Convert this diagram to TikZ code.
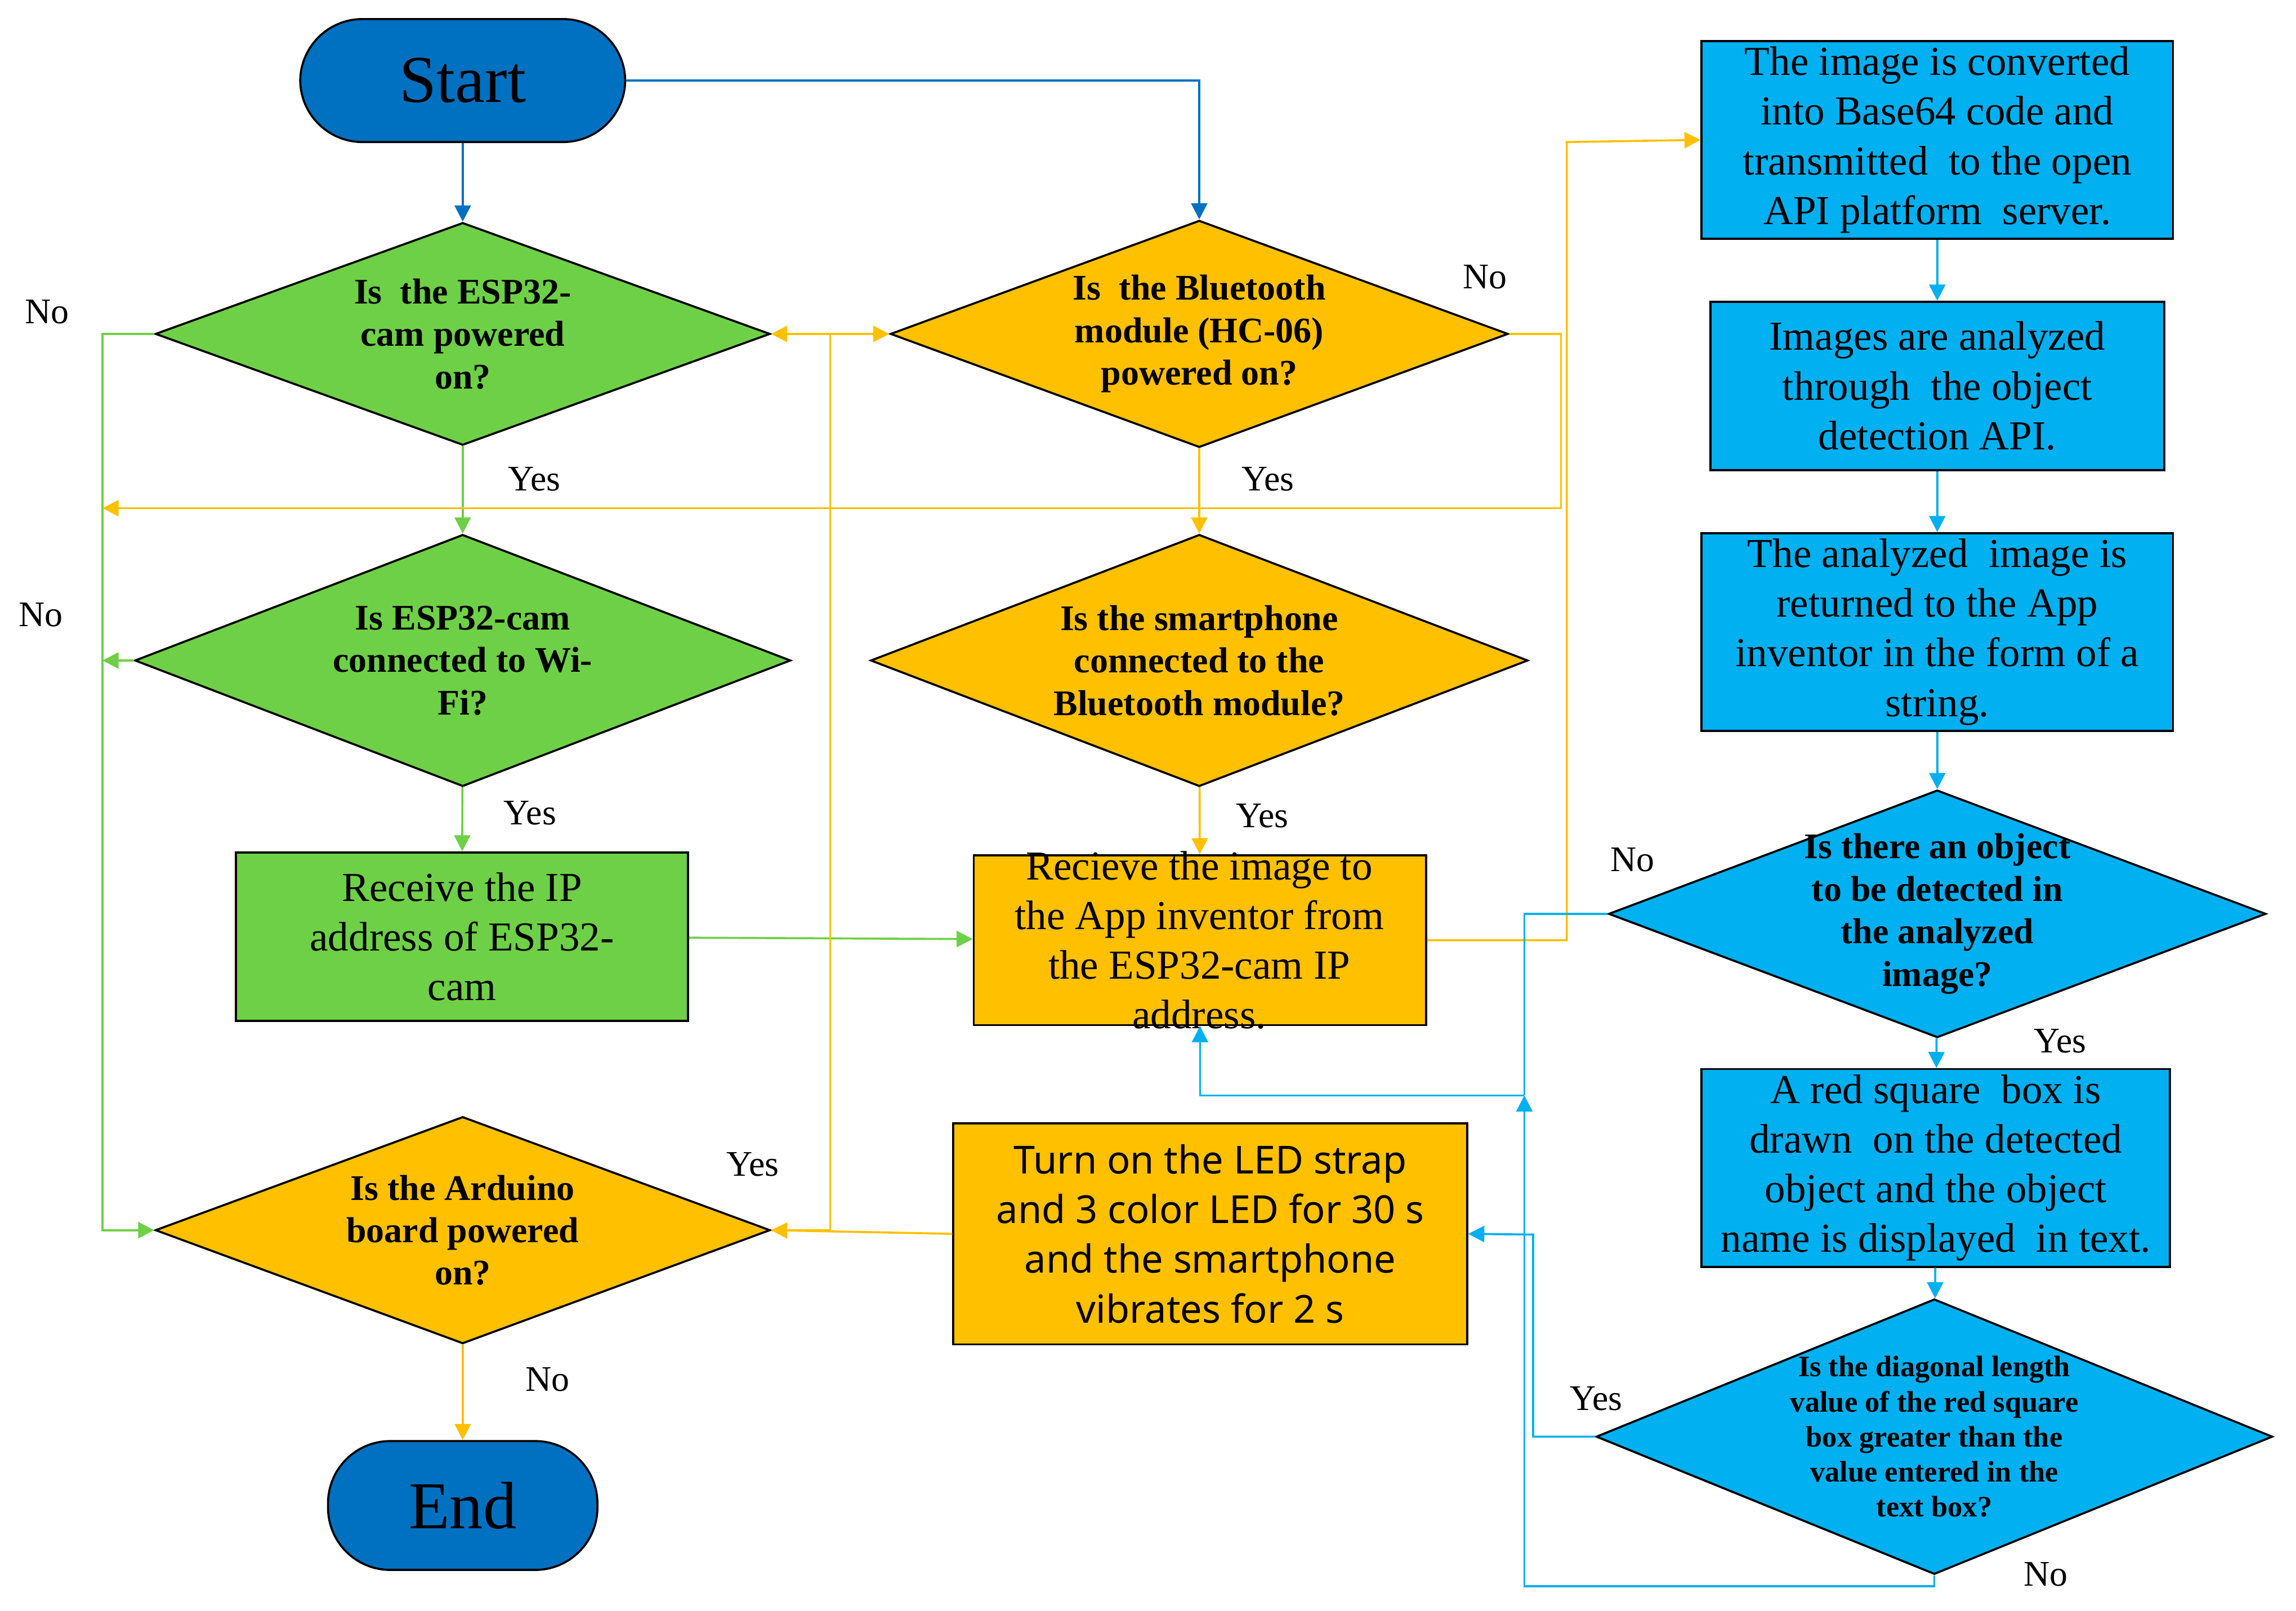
\documentclass[tikz,border=0pt]{standalone}
\usepackage{fontspec}
\setmainfont{Liberation Serif}
\newfontfamily\boxsans{Noto Sans}
\usetikzlibrary{shapes.geometric,arrows.meta}
\definecolor{cgreen}{RGB}{110,208,70}
\definecolor{corange}{RGB}{255,192,0}
\definecolor{cblue}{RGB}{0,176,240}
\definecolor{cdark}{RGB}{0,112,192}
\begin{document}
\begin{tikzpicture}[x=0.02cm,y=-0.02cm,line width=0.8pt,
	>={Triangle[length=2.2mm,width=2.2mm]},
	term/.style={draw=black,thick,fill=cdark,rounded corners=0.85cm,font=\fontsize{26}{30}\selectfont},
	dia/.style={diamond,draw=black,thick,inner sep=0pt},
	box/.style={draw=black,thick,inner sep=0pt,align=center,font=\fontsize{16}{19.3}\selectfont},
	dtext/.style={align=center,font=\bfseries\fontsize{14}{16.5}\selectfont},
	lab/.style={font=\fontsize{14}{16}\selectfont}]
	\useasboundingbox (0,0) rectangle (1568,1100);
	% terminals
	\node [term,minimum width=4.44cm,minimum height=1.68cm] (start) at (316,55) {Start};
	\node [term,minimum width=3.68cm,minimum height=1.76cm] (end) at (316,1028) {End};
	% diamonds
	\node [dia,fill=cgreen,minimum width=8.4cm,minimum height=3.04cm] (d1) at (316,228) {};
	\node [dtext] at (d1) {Is\ \ the ESP32-\\cam powered\\on?};
	\node [dia,fill=corange,minimum width=8.44cm,minimum height=3.1cm] (d2) at (819,228) {};
	\node [dtext] at (d2) {Is\ \ the Bluetooth\\module (HC-06)\\powered on?};
	\node [dia,fill=cgreen,minimum width=8.96cm,minimum height=3.44cm] (d3) at (316,451) {};
	\node [dtext] at (d3) {Is ESP32-cam\\connected to Wi-\\Fi?};
	\node [dia,fill=corange,minimum width=8.98cm,minimum height=3.44cm] (d4) at (819,451) {};
	\node [dtext] at (d4) {Is the smartphone\\connected to the\\Bluetooth module?};
	\node [dia,fill=corange,minimum width=8.4cm,minimum height=3.1cm] (d5) at (316,840) {};
	\node [dtext] at (d5) {Is the Arduino\\board powered\\on?};
	\node [dia,fill=cblue,minimum width=8.98cm,minimum height=3.38cm] (d6) at (1323,624) {};
	\node [dtext] at (d6) {Is there an object\\to be detected in\\the analyzed\\image?};
	\node [dia,fill=cblue,minimum width=9.24cm,minimum height=3.76cm] (d7) at (1321,981) {};
	\node [dtext,font=\bfseries\fontsize{11.5}{13.6}\selectfont] at (d7) {Is the diagonal length\\value of the red square\\box greater than the\\value entered in the\\text box?};
	% boxes
	\node [box,fill=cgreen,minimum width=6.18cm,minimum height=2.3cm] (b1) at (315.5,639.5) {Receive the IP\\address of ESP32-\\cam};
	\node [box,fill=corange,minimum width=6.18cm,minimum height=2.32cm] (b2) at (819.5,642) {};
	\node [align=center,font=\fontsize{16}{19.3}\selectfont] at (819,642) {Recieve the image to\\the App inventor from\\the ESP32-cam IP\\address.};
	\node [box,fill=corange,minimum width=7.02cm,minimum height=3.02cm,font=\boxsans\fontsize{15}{19.3}\selectfont] (b3) at (826.5,842.5) {Turn on the LED strap\\and 3 color LED for 30 s\\and the smartphone\\vibrates for 2 s};
	\node [box,fill=cblue,minimum width=6.44cm,minimum height=2.7cm] (r1) at (1323,95.5) {The image is converted\\into Base64 code and\\transmitted\ \ to the open\\API platform\ \ server.};
	\node [box,fill=cblue,minimum width=6.2cm,minimum height=2.3cm] (r2) at (1323,263.5) {Images are analyzed\\through\ \ the object\\detection API.};
	\node [box,fill=cblue,minimum width=6.44cm,minimum height=2.7cm] (r3) at (1323,431.5) {The analyzed\ \ image is\\returned to the App\\inventor in the form of a\\string.};
	\node [box,fill=cblue,minimum width=6.4cm,minimum height=2.7cm] (r4) at (1322,797.5) {A red square\ \ box is\\drawn\ \ on the detected\\object and the object\\name is displayed\ \ in text.};
	% helper points
	\coordinate (gx) at (70,451);
	\coordinate (oy) at (70,347);
	\coordinate (bup) at (1041,748);
	% connectors
	\draw [->,cdark] (start) -- (d1);
	\draw [->,cdark] (start.east) -| (d2.north);
	\draw [->,cgreen] (d1) -- (d3);
	\draw [->,cgreen] (d1.west) -| (70,840) -- (d5.west);
	\draw [->,cgreen] (d3.west) -- (gx);
	\draw [->,cgreen] (d3) -- (b1);
	\draw [->,cgreen] (b1) -- (b2);
	\draw [->,corange] (d2.east) -| (1066,347) -- (oy);
	\draw [->,corange] (d2) -- (d4);
	\draw [->,corange] (d4) -- (b2);
	\draw [->,corange] (b2.east) -| (1070,97) -- (r1.west);
	\draw [->,corange] (b3.west) -- (d5.east);
	\draw [->,corange] (d5.east) -| (567,228) -- (d1.east);
	\draw [->,corange] (567,228) -- (d2.west);
	\draw [->,corange] (d5) -- (end);
	\draw [->,cblue] (r1) -- (r2);
	\draw [->,cblue] (r2) -- (r3);
	\draw [->,cblue] (r3) -- (d6);
	\draw [->,cblue] (d6) -- (r4);
	\draw [->,cblue] (r4) -- (d7);
	\draw [cblue] (d6.west) -| (bup);
	\draw [->,cblue] (d7.south) -- (1321,1083) -| (bup);
	\draw [->,cblue] (bup) -| (b2.south);
	\draw [->,cblue] (d7.west) -| (1047,843) -- (b3.east);
	% labels
	\node [lab] at (365,327) {Yes};
	\node [lab] at (32,213) {No};
	\node [lab] at (28,420) {No};
	\node [lab] at (362,555) {Yes};
	\node [lab] at (1014,189) {No};
	\node [lab] at (866,327) {Yes};
	\node [lab] at (862,557) {Yes};
	\node [lab] at (514,795) {Yes};
	\node [lab] at (374,942) {No};
	\node [lab] at (1115,587) {No};
	\node [lab] at (1407,711) {Yes};
	\node [lab] at (1090,955) {Yes};
	\node [lab] at (1397,1075) {No};
\end{tikzpicture}
\end{document}
